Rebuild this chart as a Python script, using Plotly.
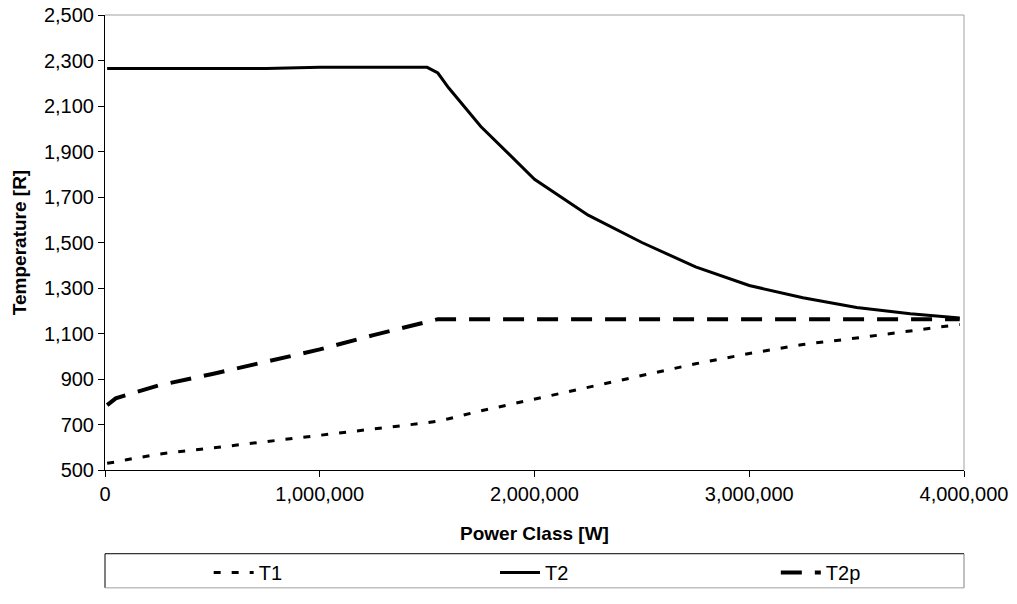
import plotly.graph_objects as go

# power class grid shared by all series [W]
power = [10000, 50000, 100000, 250000, 500000, 750000, 1000000, 1250000,
         1500000, 1550000, 1600000, 1750000, 2000000, 2250000, 2500000,
         2750000, 3000000, 3250000, 3500000, 3750000, 3980000]

t1 = [530, 535, 545, 570, 597, 625, 650, 680, 708, 715, 725, 760, 812, 862,
      915, 967, 1012, 1052, 1080, 1112, 1140]
t2 = [2265, 2265, 2265, 2265, 2265, 2265, 2270, 2270, 2270, 2245, 2180,
      2010, 1778, 1620, 1500, 1393, 1311, 1257, 1214, 1187, 1168]
t2p = [785, 815, 830, 872, 922, 975, 1030, 1093, 1150, 1163, 1163, 1163,
       1163, 1163, 1163, 1163, 1163, 1163, 1163, 1163, 1163]

FONT = "Liberation Sans, Arial, sans-serif"

fig = go.Figure()
fig.add_trace(go.Scatter(x=power, y=t1, mode="lines", name="T1",
                         line=dict(color="black", width=3, dash="7px,11px"),
                         legend="legend", showlegend=True))
fig.add_trace(go.Scatter(x=power, y=t2, mode="lines", name="T2",
                         line=dict(color="black", width=3),
                         legend="legend2", showlegend=True))
fig.add_trace(go.Scatter(x=power, y=t2p, mode="lines", name="T2p",
                         line=dict(color="black", width=4, dash="21px,13px"),
                         legend="legend3", showlegend=True))

# one legend per entry so each sits centred in its third of the box
leg = dict(orientation="h", yanchor="middle", xanchor="center", y=-0.225,
           font=dict(family=FONT, size=20, color="black"),
           bgcolor="rgba(0,0,0,0)", itemwidth=40)

fig.update_layout(
    width=1017, height=604,
    margin=dict(l=105, r=53, t=15, b=122),
    showlegend=True,
    plot_bgcolor="white", paper_bgcolor="white",
    font=dict(family=FONT, size=20, color="black"),
    legend=dict(leg, x=1 / 6),
    legend2=dict(leg, x=0.5),
    legend3=dict(leg, x=5 / 6),
    xaxis=dict(range=[0, 4000000], dtick=1000000, tick0=0, tickformat=",d",
               showgrid=False, zeroline=False, showline=True, automargin=False,
               linecolor="black", linewidth=1, ticks="outside", ticklen=6,
               tickcolor="black",
               tickfont=dict(family=FONT, size=20),
               title=dict(text="<b>Power Class [W]</b>", standoff=22,
                          font=dict(family=FONT, size=19))),
    yaxis=dict(range=[500, 2500], dtick=200, tick0=500, tickformat=",d",
               showgrid=False, zeroline=False, showline=True, automargin=False,
               linecolor="black", linewidth=1, ticks="outside", ticklen=6,
               tickcolor="black",
               tickfont=dict(family=FONT, size=20),
               title=dict(text="<b>Temperature [R]</b>", standoff=12,
                          font=dict(family=FONT, size=19))),
)

# grey top/right frame of the plot area
fig.add_shape(type="line", xref="paper", yref="paper", x0=0, x1=1, y0=1, y1=1,
              line=dict(color="#a0a0a0", width=1))
fig.add_shape(type="line", xref="paper", yref="paper", x0=1, x1=1, y0=0, y1=1,
              line=dict(color="#a0a0a0", width=1))

# legend box: dark top/left, grey bottom/right
ly0, ly1 = -0.259, -0.184
fig.add_shape(type="line", xref="paper", yref="paper", x0=0, x1=1, y0=ly1, y1=ly1,
              line=dict(color="black", width=1))
fig.add_shape(type="line", xref="paper", yref="paper", x0=0, x1=0, y0=ly0, y1=ly1,
              line=dict(color="black", width=1))
fig.add_shape(type="line", xref="paper", yref="paper", x0=0, x1=1, y0=ly0, y1=ly0,
              line=dict(color="#a0a0a0", width=1))
fig.add_shape(type="line", xref="paper", yref="paper", x0=1, x1=1, y0=ly0, y1=ly1,
              line=dict(color="#808080", width=1))

# drop the default page margin so the figure sits at the window origin
fig.write_html("out.html", config={"displayModeBar": False},
               post_script="document.body.style.margin='0';")
